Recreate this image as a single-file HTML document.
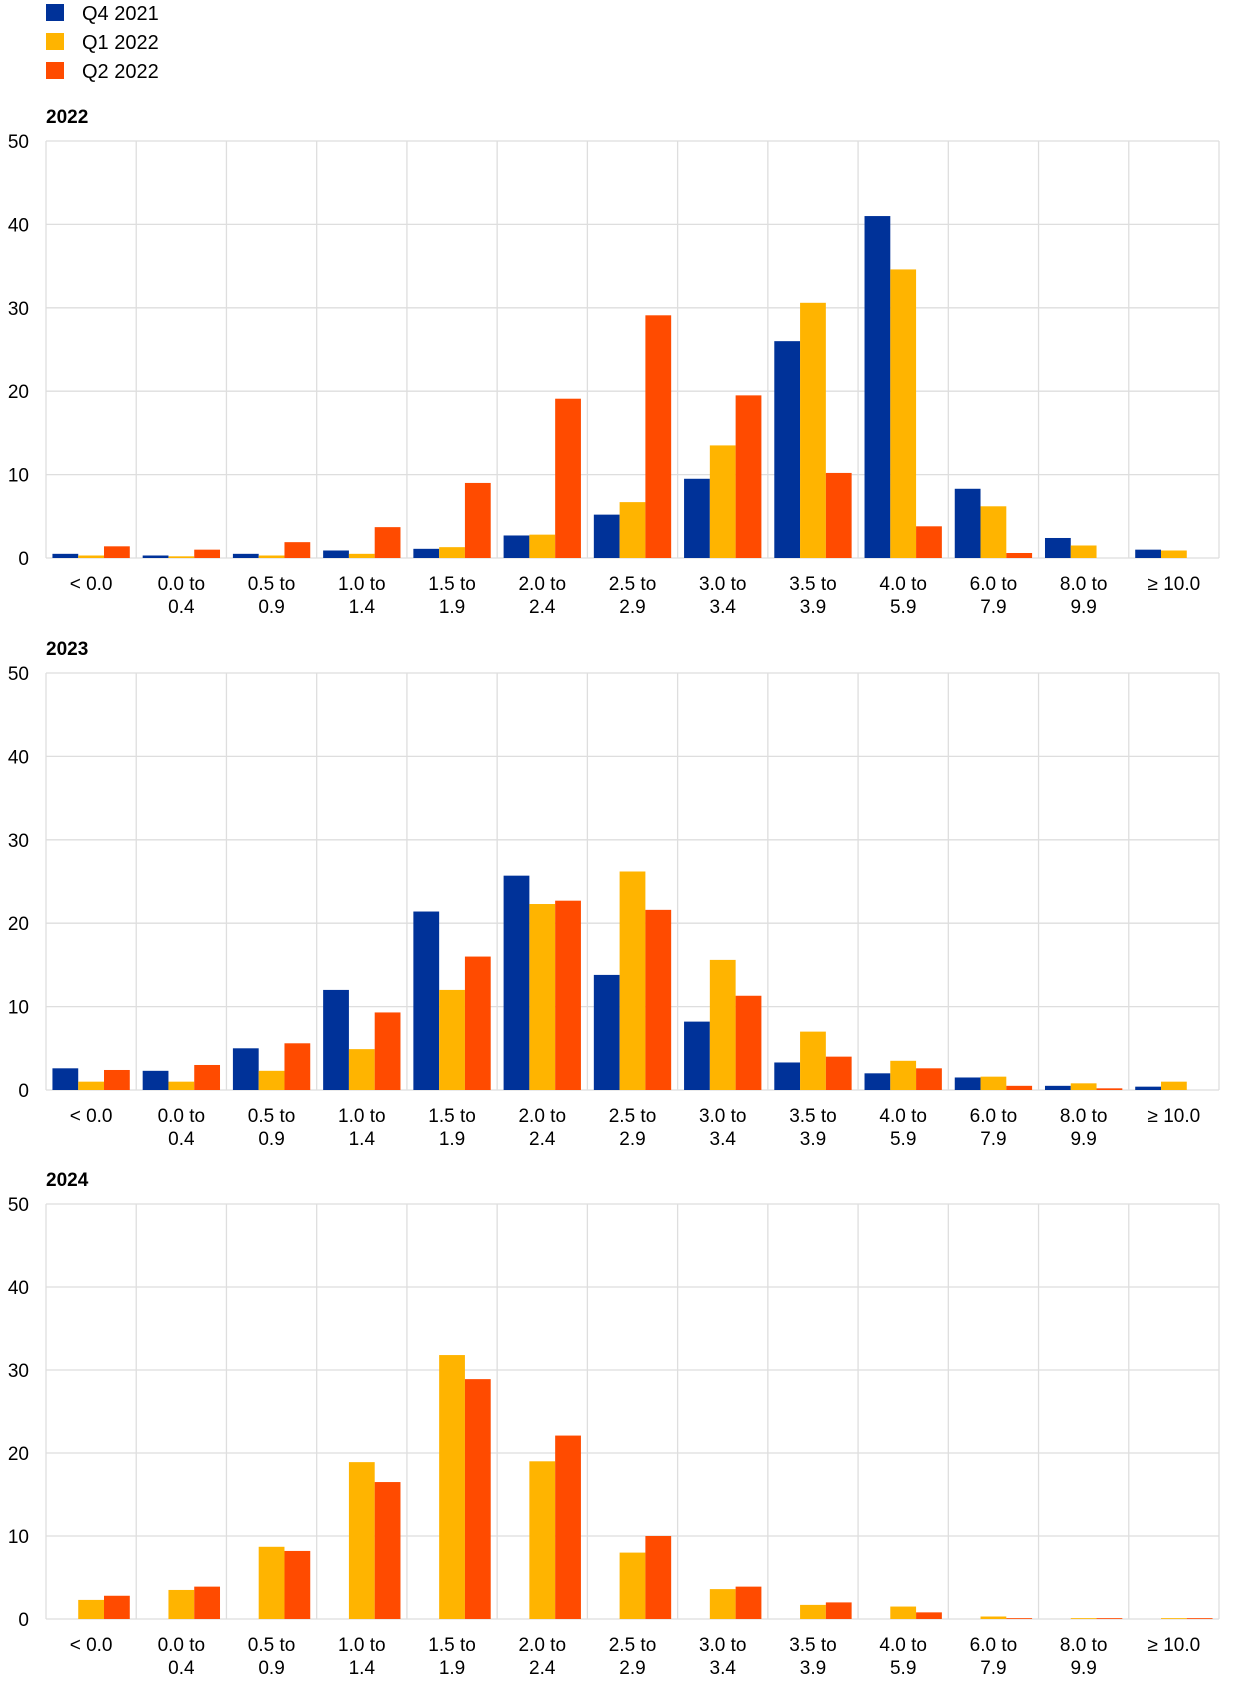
<!DOCTYPE html>
<html><head><meta charset="utf-8"><style>
body{margin:0;background:#fff;}
svg{display:block;font-family:"Liberation Sans",Arial,sans-serif;}
</style></head><body>
<svg id="c" width="1240" height="1686" viewBox="0 0 1240 1686" xmlns="http://www.w3.org/2000/svg">
<g>
<g><rect x="46" y="4" width="18" height="17" fill="#003299"/><text x="82" y="20" font-size="20">Q4 2021</text></g>
<g><rect x="46" y="33" width="18" height="17" fill="#ffb400"/><text x="82" y="49" font-size="20">Q1 2022</text></g>
<g><rect x="46" y="62" width="18" height="17" fill="#ff4b00"/><text x="82" y="78" font-size="20">Q2 2022</text></g>
</g>
</svg>
<script>
const categories=[["< 0.0",""],["0.0  to","0.4"],["0.5  to","0.9"],["1.0  to","1.4"],["1.5  to","1.9"],["2.0  to","2.4"],["2.5  to","2.9"],["3.0  to","3.4"],["3.5  to","3.9"],["4.0  to","5.9"],["6.0  to","7.9"],["8.0 to","9.9"],["≥ 10.0",""]];
const yTicks=[0,10,20,30,40,50];
const seriesNames=["Q4 2021","Q1 2022","Q2 2022"];
const colors=["#003299","#ffb400","#ff4b00"];
const panelTitles=["2022","2023","2024"];
const y2022q4=[0.5,0.3,0.5,0.9,1.1,2.7,5.2,9.5,26,41,8.3,2.4,1.0];
const y2022q1=[0.3,0.2,0.3,0.5,1.3,2.8,6.7,13.5,30.6,34.6,6.2,1.5,0.9];
const y2022q2=[1.4,1.0,1.9,3.7,9.0,19.1,29.1,19.5,10.2,3.8,0.6,0,0];
const y2023q4=[2.6,2.3,5.0,12.0,21.4,25.7,13.8,8.2,3.3,2.0,1.5,0.5,0.4];
const y2023q1=[1.0,1.0,2.3,4.9,12.0,22.3,26.2,15.6,7.0,3.5,1.6,0.8,1.0];
const y2023q2=[2.4,3.0,5.6,9.3,16.0,22.7,21.6,11.3,4.0,2.6,0.5,0.2,0];
const y2024q4=[0,0,0,0,0,0,0,0,0,0,0,0,0];
const y2024q1=[2.3,3.5,8.7,18.9,31.8,19.0,8.0,3.6,1.7,1.5,0.3,0.1,0.1];
const y2024q2=[2.8,3.9,8.2,16.5,28.9,22.1,10.0,3.9,2.0,0.8,0.1,0.1,0.1];
const panels=[[y2022q4,y2022q1,y2022q2],[y2023q4,y2023q1,y2023q2],[y2024q4,y2024q1,y2024q2]];
const NS="http://www.w3.org/2000/svg";
const svg=document.getElementById('c');
const tops=[141,673,1204],bases=[558,1090,1619];
const L=46,R=1219,cw=(R-L)/categories.length;
function mk(t,a,p){const e=document.createElementNS(NS,t);for(const k in a)e.setAttribute(k,a[k]);p.appendChild(e);return e;}
panels.forEach((ser,pi)=>{
  const top=tops[pi],base=bases[pi];
  const y=v=>base-(v/50)*(base-top);
  const g=mk('g',{},svg);
  
  
  const t=mk('text',{x:46,y:top-18,'font-size':19,'font-weight':'bold'},g);t.textContent=panelTitles[pi];
  
  
  yTicks.forEach(v=>{
    const l=mk('line',{x1:L,x2:R,y1:y(v),y2:y(v),stroke:'#dedede','stroke-width':1.3},g);
    
    
    const tx=mk('text',{x:29,y:y(v)+7,'font-size':19,'text-anchor':'end'},g);tx.textContent=v;
    
    
  });
  for(let i=0;i<=categories.length;i++){
    const l=mk('line',{x1:L+i*cw,x2:L+i*cw,y1:top,y2:base,stroke:'#dedede','stroke-width':1.3},g);
    
    
  }
  categories.forEach((c,i)=>{
    const cx=L+(i+0.5)*cw;
    c.forEach((s,j)=>{if(!s)return;
      const tx=mk('text',{x:cx,y:base+32+j*23,'font-size':19,'text-anchor':'middle','xml:space':'preserve'},g);tx.textContent=s;
      
      
    });
    const bw=cw*24/84,off=cw*6/84;
    ser.forEach((arr,si)=>{
      const v=arr[i];if(v<=0)return;
      const r=mk('rect',{x:L+i*cw+off+si*bw,y:y(v),width:bw,height:base-y(v),fill:colors[si]},g);
      
      
    });
  });
});
</script>
</body></html>
